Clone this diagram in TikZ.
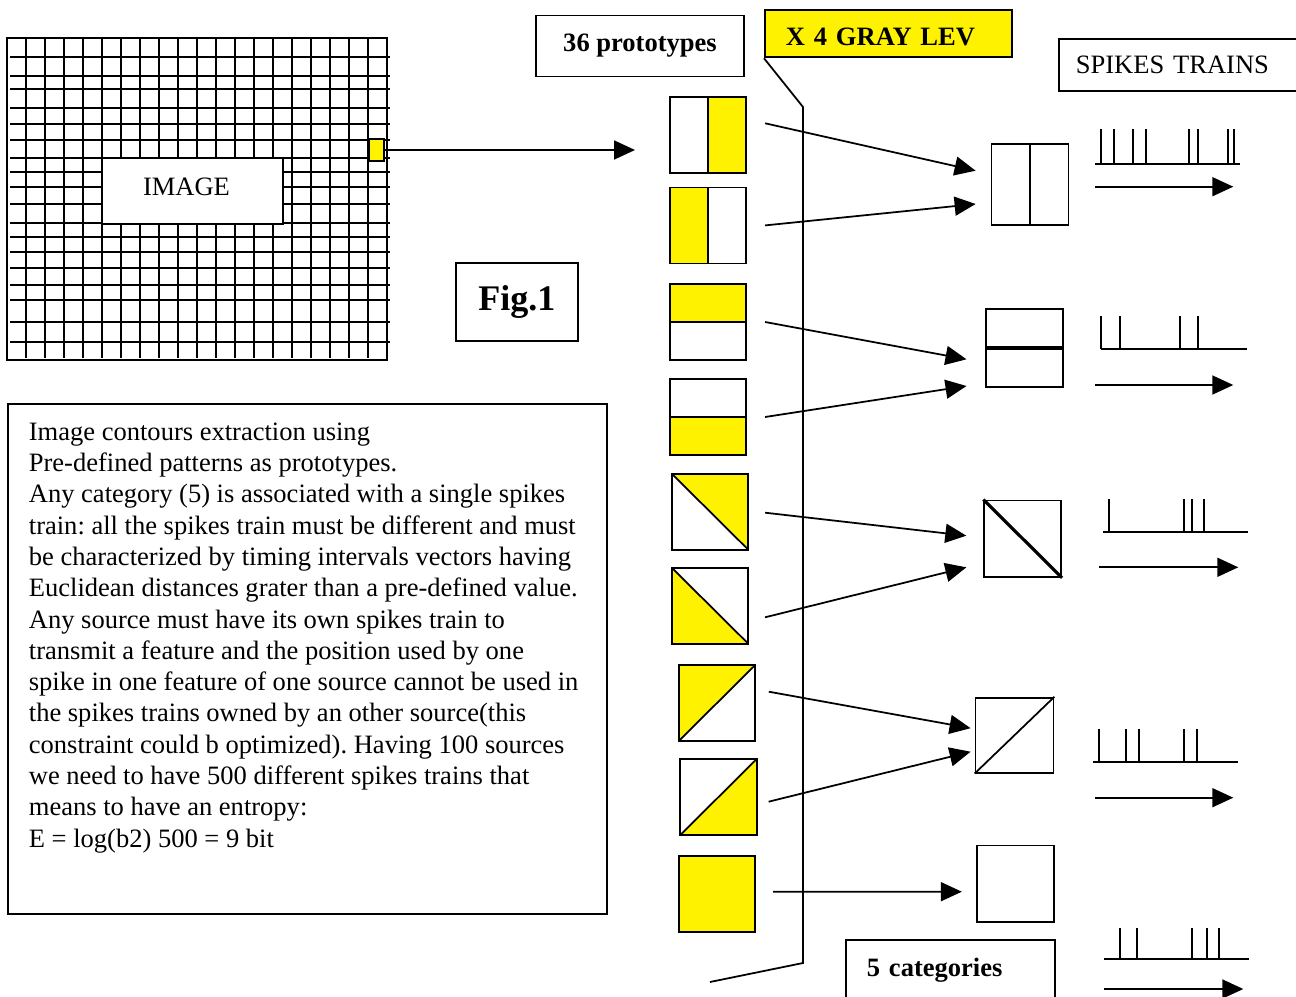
\documentclass[tikz,border=0pt]{standalone}
\usepackage{fontspec}
\setmainfont{Liberation Serif}
\usetikzlibrary{arrows.meta, positioning, calc}
\frenchspacing

\begin{document}
\begin{tikzpicture}[
        x=0.02cm, y=-0.02cm,
        line width=1pt,
        font=\fontsize{15.1}{17.8}\selectfont,
        tagbox/.style={
            draw,
            rectangle,
            inner sep=0pt,
            font=\fontsize{15.1}{17.8}\selectfont\bfseries
        },
        proto/.style={
            draw,
            rectangle,
            inner sep=0pt,
            minimum width=1.53cm,
            minimum height=1.52cm
        },
        categ/.style={
            draw,
            rectangle,
            inner sep=0pt,
            minimum width=1.54cm,
            minimum height=1.53cm
        },
        yellowright/.style={path picture={
            \fill[yellow] (path picture bounding box.north) rectangle (path picture bounding box.south east);
            \draw (path picture bounding box.north) -- (path picture bounding box.south);}},
        yellowleft/.style={path picture={
            \fill[yellow] (path picture bounding box.north west) rectangle (path picture bounding box.south);
            \draw (path picture bounding box.north) -- (path picture bounding box.south);}},
        yellowtop/.style={path picture={
            \fill[yellow] (path picture bounding box.north west) rectangle (path picture bounding box.east);
            \draw (path picture bounding box.west) -- (path picture bounding box.east);}},
        yellowbottom/.style={path picture={
            \fill[yellow] (path picture bounding box.west) rectangle (path picture bounding box.south east);
            \draw (path picture bounding box.west) -- (path picture bounding box.east);}},
        yellowupright/.style={path picture={
            \fill[yellow] (path picture bounding box.north west) -- (path picture bounding box.north east)
                -- (path picture bounding box.south east) -- cycle;
            \draw (path picture bounding box.north west) -- (path picture bounding box.south east);}},
        yellowlowleft/.style={path picture={
            \fill[yellow] (path picture bounding box.north west) -- (path picture bounding box.south west)
                -- (path picture bounding box.south east) -- cycle;
            \draw (path picture bounding box.north west) -- (path picture bounding box.south east);}},
        yellowupleft/.style={path picture={
            \fill[yellow] (path picture bounding box.south west) -- (path picture bounding box.north west)
                -- (path picture bounding box.north east) -- cycle;
            \draw (path picture bounding box.south west) -- (path picture bounding box.north east);}},
        yellowlowright/.style={path picture={
            \fill[yellow] (path picture bounding box.south west) -- (path picture bounding box.south east)
                -- (path picture bounding box.north east) -- cycle;
            \draw (path picture bounding box.south west) -- (path picture bounding box.north east);}},
        arrowline/.style={-{Triangle[length=0.42cm, width=0.38cm]}, line width=1pt}
    ]
        \useasboundingbox (0,0) rectangle (1296,997);

        % image grid
        \foreach \gx in {26,45,...,368}
            \draw (\gx,38) -- (\gx,358);
        \foreach \gy in {57,76,89,108,124,140,158,172,187,204,223,237,252,268,285,300,322,342}
            \draw (10,\gy) -- (390,\gy);
        \draw (7,38) rectangle (387,360);
        \node[draw, fill=white, inner sep=0pt, inner xsep=0.82cm, text width=1.98cm, align=left,
            text height=0.73cm, text depth=0.58cm] (imagen) at (192.5,191.3) {IMAGE};
        \node[draw, fill=yellow, inner sep=0pt, minimum width=0.31cm, minimum height=0.44cm] (pixel) at (376.5,150) {};
        \coordinate (entrada) at (635,150);
        \draw[arrowline] (pixel.east) -- (entrada);

        \node[tagbox, minimum width=2.44cm, minimum height=1.56cm,
            font=\fontsize{20.5}{24}\selectfont\bfseries] (fig) at (516.8,302.2) {Fig.1};

        % labels
        \node[tagbox, minimum width=4.16cm, minimum height=1.22cm] (protos) at (640,46) {36 prototypes};
        \node[tagbox, fill=yellow, anchor=north west, text height=0.71cm, text depth=0.24cm, text width=4.1cm,
            inner xsep=0.42cm, align=left] (gris) at (764,9) {X 4 GRAY LEV};
        \node[tagbox, font=\fontsize{15.1}{17.8}\selectfont, anchor=north west, minimum height=1.04cm,
            text width=4.16cm, inner xsep=0.34cm, align=left] (trenes) at (1058,38) {SPIKES TRAINS};
        \node[tagbox, anchor=north west, text width=3.34cm, inner xsep=0.42cm, inner ysep=0.36cm,
            text depth=1.2cm, align=left] (categorias) at (845,939) {5 categories};

        % text
        \node[draw, anchor=north west, minimum width=11.98cm, minimum height=10.2cm] (marco) at (7,403) {};
        \node[anchor=north west, inner sep=0pt, align=left] (nota) at (28,422) {Image contours extraction using\\
            Pre-defined patterns as prototypes.\\
            Any category (5) is associated with a single spikes\\
            train: all the spikes train must be different and must\\
            be characterized by timing intervals vectors having\\
            Euclidean distances grater than a pre-defined value.\\
            Any source must have its own spikes train to\\
            transmit a feature and the position used by one\\
            spike in one feature of one source cannot be used in\\
            the spikes trains owned by an other source(this\\
            constraint could b optimized). Having 100 sources\\
            we need to have 500 different spikes trains that\\
            means to have an entropy:\\
            E = log(b2) 500 = 9 bit};

        % prototypes
        \node[proto, yellowright] (p1) at (708,135) {};
        \node[proto, yellowleft] (p2) at (708,225.4) {};
        \node[proto, yellowtop] (p3) at (708,322) {};
        \node[proto, yellowbottom] (p4) at (708,417) {};
        \node[proto, yellowupright] (p5) at (710,511.7) {};
        \node[proto, yellowlowleft] (p6) at (710,605.7) {};
        \node[proto, yellowupleft] (p7) at (717,703) {};
        \node[proto, yellowlowright] (p8) at (718.5,797) {};
        \node[proto, fill=yellow] (p9) at (717,894) {};

        % categories
        \node[categ, minimum height=1.63cm] (c1) at (1030,184.5) {};
        \node[categ, minimum height=1.56cm] (c2) at (1024.5,348) {};
        \node[categ] (c3) at (1022.7,538.7) {};
        \node[categ, minimum width=1.56cm, minimum height=1.5cm] (c4) at (1014.5,735.2) {};
        \node[categ] (c5) at (1015.8,883.7) {};
        \draw (c1.north) -- (c1.south);
        \draw[line width=2pt] (c2.west) -- (c2.east);
        \draw[line width=1.8pt] (c3.north west) -- (c3.south east);
        \draw (c4.south west) -- (c4.north east);

        % gray levels bracket
        \coordinate (codo) at (803,107);
        \coordinate (pie) at (803,963);
        \coordinate (cola) at (710,982);
        \draw (gris.south west) -- (codo) -- (pie) -- (cola);

        \draw[arrowline] ($(p1.east)+(18,-11.7)$) -- ($(c1.west)+(-15,-13.8)$);
        \draw[arrowline] ($(p2.east)+(18,0)$) -- ($(c1.west)+(-15,19.5)$);
        \draw[arrowline] ($(p3.east)+(18,0)$) -- ($(c2.west)+(-18.6,11.3)$);
        \draw[arrowline] ($(p4.east)+(18,0)$) -- ($(c2.west)+(-18.6,38)$);
        \draw[arrowline] ($(p5.east)+(16,1)$) -- ($(c3.west)+(-17,-3)$);
        \draw[arrowline] ($(p6.east)+(16,11.6)$) -- ($(c3.west)+(-17,28.6)$);
        \draw[arrowline] ($(p7.east)+(12.7,-11.3)$) -- ($(c4.west)+(-4,-7)$);
        \draw[arrowline] ($(p8.east)+(11,4.7)$) -- ($(c4.west)+(-4,16.5)$);
        \draw[arrowline] ($(p9.east)+(17,-2.3)$) -- ($(c5.west)+(-14.6,8)$);

        % spikes trains
        \draw (1095,164.3) -- (1240,164.3);
        \foreach \sx in {1100.7,1114,1133.3,1145.7,1189.3,1197.7,1228.3,1234.3}
            \draw (\sx,129.3) -- (\sx,164.3);
        \draw[arrowline] (1095,186.7) -- (1233.3,186.7);

        \draw (1100.7,349.3) -- (1246.7,349.3);
        \foreach \sx in {1100.7,1120.3,1180.3,1198}
            \draw (\sx,316) -- (\sx,349.3);
        \draw[arrowline] (1095,385) -- (1233.3,385);

        \draw (1103.3,531.7) -- (1248.3,531.7);
        \foreach \sx in {1109.3,1184.3,1192.3,1204}
            \draw (\sx,499) -- (\sx,531.7);
        \draw[arrowline] (1099.3,567.3) -- (1238.3,567.3);

        \draw (1093.3,761.7) -- (1238.3,761.7);
        \foreach \sx in {1099,1126.3,1138.7,1184,1197}
            \draw (\sx,729.3) -- (\sx,761.7);
        \draw[arrowline] (1095,797.7) -- (1233.3,797.7);

        \draw (1104,959) -- (1249,959);
        \foreach \sx in {1120,1136.7,1192.3,1207,1218.7}
            \draw (\sx,928) -- (\sx,959);
        \draw[arrowline] (1104,989) -- (1243.3,989);
    \end{tikzpicture}
\end{document}
